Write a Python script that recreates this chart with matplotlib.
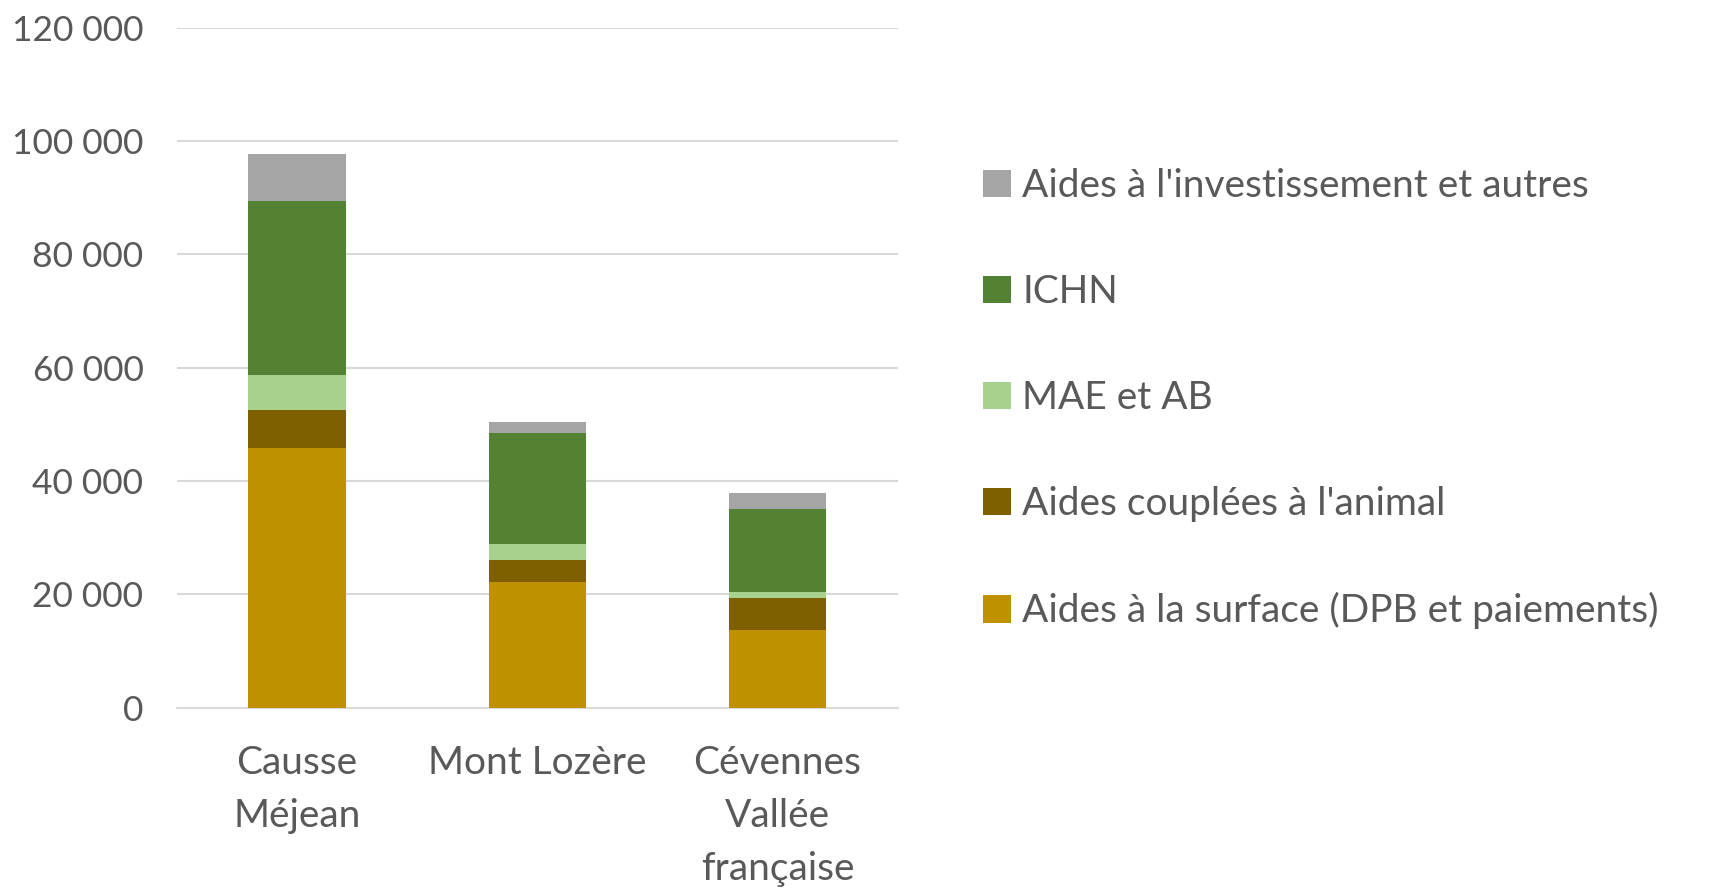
import numpy as np
import matplotlib.pyplot as plt

plt.rcParams['font.family'] = ['Lato', 'DejaVu Sans']

# Données
zones = ['Causse\nMéjean', 'Mont Lozère', 'Cévennes\nVallée\nfrançaise']
series = ['Aides à la surface (DPB et paiements)', "Aides couplées à l'animal",
          'MAE et AB', 'ICHN', "Aides à l'investissement et autres"]
surface = [45900, 22200, 13800]
animal = [6550, 3950, 5500]
mae_ab = [6200, 2650, 1050]
ichn = [30800, 19600, 14700]
invest = [8200, 2000, 2900]
couleurs = ['#BF9000', '#7F6000', '#A9D18E', '#548235', '#A5A5A5']

valeurs = [surface, animal, mae_ab, ichn, invest]
gris = '#595959'

fig = plt.figure(figsize=(17.33, 8.88), dpi=100)
ax = fig.add_axes([0.102, 0.203, 0.416, 0.766])

x = np.arange(len(zones))
bas = np.zeros(len(zones))
barres = []
for nom, v, c in zip(series, valeurs, couleurs):
    b = ax.bar(x, v, 0.405, bottom=bas, color=c, label=nom, zorder=3)
    barres.append(b)
    bas += np.array(v)

ax.set_xlim(-0.5, 2.5)
ax.set_ylim(0, 120000)
ax.set_yticks(np.arange(0, 120001, 20000))
ax.set_yticklabels([f'{int(t):,}'.replace(',', ' ') for t in np.arange(0, 120001, 20000)])
ax.set_xticks(x)
ax.set_xticklabels(zones, linespacing=1.58)
ax.yaxis.grid(True, color='#D9D9D9', linewidth=1.5, zorder=0)
for s in ['top', 'right', 'left']:
    ax.spines[s].set_visible(False)
ax.spines['bottom'].set_color('#D9D9D9')
ax.spines['bottom'].set_linewidth(1.5)
ax.tick_params(axis='both', length=0, colors=gris)
ax.tick_params(axis='y', pad=24, labelsize=25.5)
ax.tick_params(axis='x', pad=27, labelsize=28)

leg = fig.legend(barres[::-1], series[::-1], loc='center left',
                 bbox_to_anchor=(0.567, 0.551), frameon=False, fontsize=28,
                 labelspacing=1.8, handlelength=0.72, handleheight=0.72,
                 handletextpad=0.3, borderpad=0, borderaxespad=0,
                 labelcolor=gris)

plt.savefig('out.png', dpi=100)
